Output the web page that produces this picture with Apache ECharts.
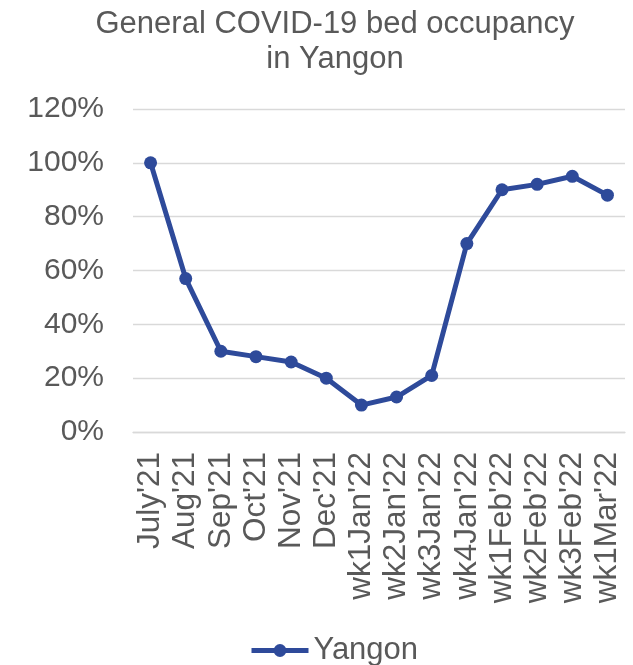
<!DOCTYPE html>
<html>
<head>
    <meta charset="utf-8">
    <title>General COVID-19 bed occupancy in Yangon</title>
    <script src="https://cdn.jsdelivr.net/npm/echarts@6.0.0/dist/echarts.min.js"></script>
    <style>
        body { margin: 0; }
    </style>
</head>
<body>
<div id="main" style="width: 633px;height:665px;"></div>
<script type="text/javascript">

    // data
    let categories = ["July'21", "Aug'21", "Sep'21", "Oct'21", "Nov'21", "Dec'21",
        "wk1Jan'22", "wk2Jan'22", "wk3Jan'22", "wk4Jan'22",
        "wk1Feb'22", "wk2Feb'22", "wk3Feb'22", "wk1Mar'22"];
    let yangon = [100, 57, 30, 28, 26, 20, 10, 13, 21, 70, 90, 92, 95, 88];

    let font = 'Liberation Sans, Arial, sans-serif';
    let grey = '#595959';
    let blue = '#2E4A9A';

    let option = {
        title: {
            text: 'General COVID-19 bed occupancy\nin Yangon',
            left: 330,
            top: 2,
            textAlign: 'center',
            textStyle: {
                fontFamily: font,
                fontSize: 31,
                fontWeight: 'normal',
                color: grey,
                lineHeight: 35
            }
        },
        legend: {
            left: 244,
            top: 630,
            itemWidth: 57,
            itemHeight: 16,
            itemGap: 4,
            lineStyle: { width: 5 },
            textStyle: { fontFamily: font, fontSize: 31, color: grey },
            data: ['Yangon']
        },
        grid: { left: 133, right: 8, top: 109, bottom: 233 },
        xAxis: {
            type: 'category',
            data: categories,
            axisLine: { lineStyle: { color: '#d9d9d9', width: 1.3 } },
            axisTick: { show: false },
            axisLabel: {
                rotate: 90,
                interval: 0,
                margin: 20,
                fontFamily: font,
                fontSize: 31.5,
                color: grey
            }
        },
        yAxis: {
            type: 'value',
            min: 0,
            max: 120,
            interval: 20,
            axisLine: { show: false },
            axisTick: { show: false },
            splitLine: { lineStyle: { color: '#d9d9d9', width: 1.3 } },
            axisLabel: {
                formatter: '{value}%',
                margin: 29,
                fontFamily: font,
                fontSize: 30,
                color: grey
            }
        },
        series: [
            {
                name: 'Yangon',
                type: 'line',
                data: yangon,
                symbol: 'circle',
                symbolSize: 13,
                color: blue,
                lineStyle: { width: 5, color: blue },
                itemStyle: { color: blue }
            }
        ]
    };

    let myChart = echarts.init(document.getElementById('main'));
    myChart.setOption(option);
</script>
</body>
</html>
